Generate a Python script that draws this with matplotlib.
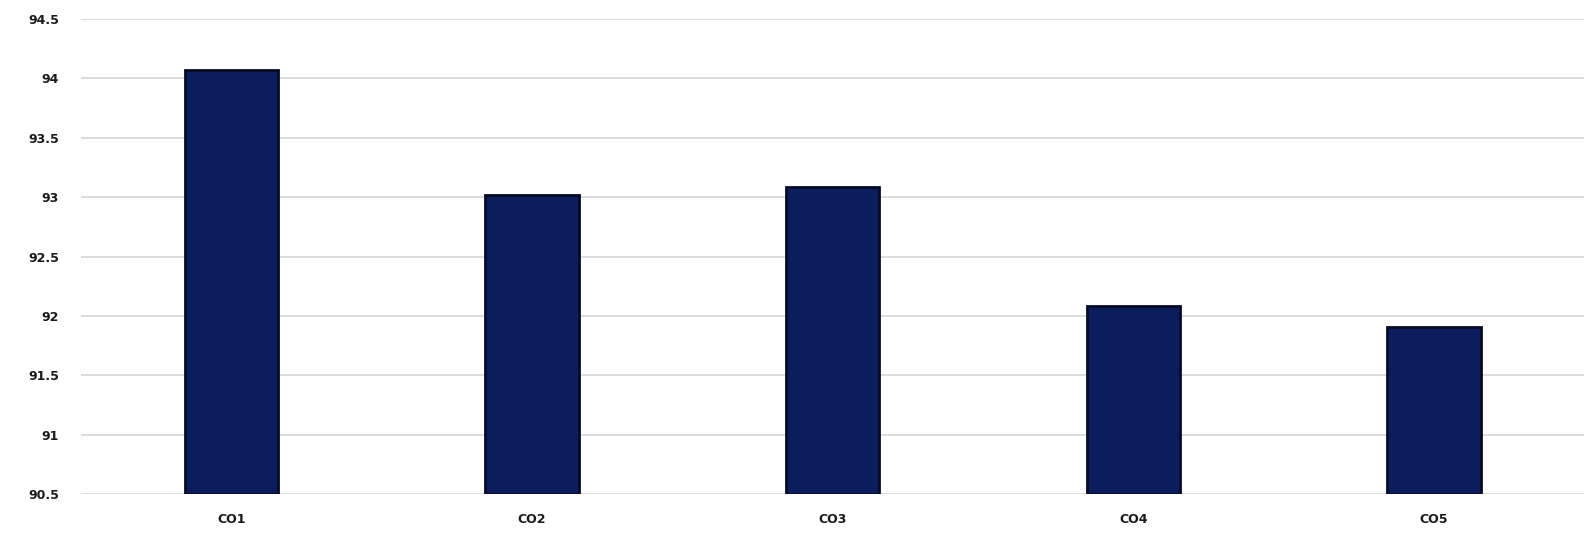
import matplotlib
matplotlib.use('Agg')
import matplotlib.pyplot as plt

# ----------------------------------------------------------------------------
# data
# ----------------------------------------------------------------------------
labels = ['CO1', 'CO2', 'CO3', 'CO4', 'CO5']
values = [94.07, 93.02, 93.09, 92.08, 91.91]
yticks = [90.5, 91, 91.5, 92, 92.5, 93, 93.5, 94, 94.5]

if __name__ == '__main__':
  fig = plt.figure(figsize=(15.89, 5.47), dpi=100)
  ax = fig.add_axes([0.051, 0.097, 0.946, 0.868])

  x = list(range(len(labels)))
  ax.bar(x, [v - yticks[0] for v in values], bottom=yticks[0], width=0.31,
         color='#0c1d5e', edgecolor='#050a26', linewidth=2, zorder=3)

  ax.set_ylim(yticks[0], yticks[-1])
  ax.set_xlim(-0.5, len(labels) - 0.5)
  ax.set_yticks(yticks)
  ax.set_yticklabels(['%g' % t for t in yticks], fontsize=9, color='#1a1a1a',
                     fontweight='semibold')
  ax.set_xticks(x)
  ax.set_xticklabels(labels, fontsize=9, color='#1a1a1a', fontweight='semibold')
  ax.tick_params(length=0)
  ax.tick_params(axis='y', pad=16)
  ax.tick_params(axis='x', pad=14)
  ax.grid(axis='y', color='#d6d6d6', linewidth=1.2, zorder=0)
  for s in ax.spines.values():
    s.set_visible(False)

  fig.savefig('out.png')
